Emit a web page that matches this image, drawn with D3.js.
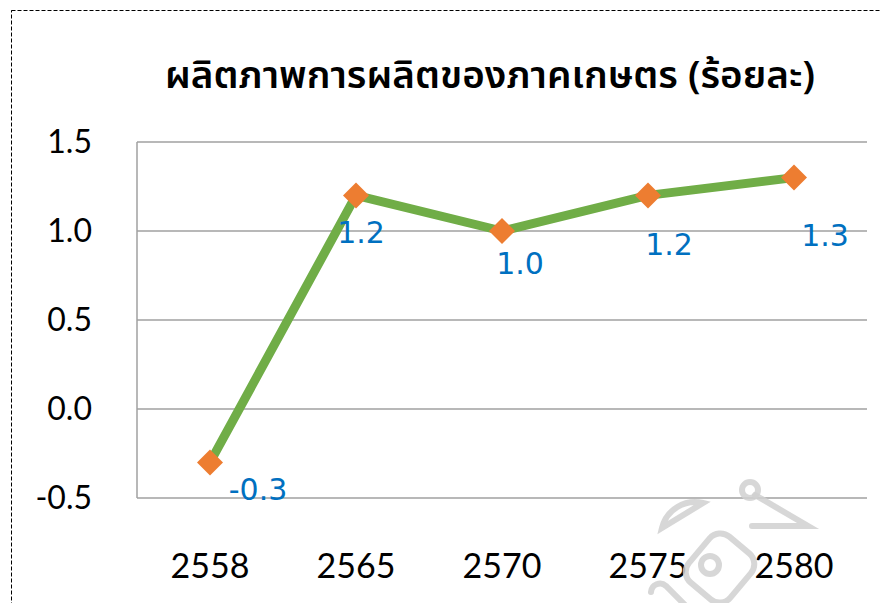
<!DOCTYPE html>
<html>
<head>
<meta charset="utf-8">
<script src="https://cdn.jsdelivr.net/npm/d3@7"></script>
<style>
  html, body { margin: 0; padding: 0; background: #fff; }
  svg { display: block; }
</style>
</head>
<body>
<div id="chart"></div>
<script>
// data
const years = ["2558", "2565", "2570", "2575", "2580"];
const values = [-0.3, 1.2, 1.0, 1.2, 1.3];
const yTicks = [-0.5, 0.0, 0.5, 1.0, 1.5];
const title = "ผลิตภาพการผลิตของภาคเกษตร (ร้อยละ)";

// label nudges (px from the marker), Excel places them by hand
const labelNudge = [[48, 38], [5, 48], [18, 43], [21, 60], [31, 68]];

const width = 880, height = 603;
const plot = { left: 137, right: 867, top: 142, bottom: 498 };
const fmt = d => d.toFixed(1); // plain hyphen for negatives, like the original

const svg = d3.select("#chart").append("svg")
  .attr("width", width)
  .attr("height", height);

// dashed frame, runs off the right and bottom edges
svg.append("rect")
  .attr("x", 11.5).attr("y", 10.5)
  .attr("width", 900).attr("height", 700)
  .attr("fill", "none")
  .attr("stroke", "#000")
  .attr("stroke-width", 1)
  .attr("stroke-dasharray", "4,2");

const x = d3.scalePoint()
  .domain(years)
  .range([plot.left, plot.right])
  .padding(0.5);

const y = d3.scaleLinear()
  .domain([-0.5, 1.5])
  .range([plot.bottom, plot.top]);

// gridlines
svg.append("g")
  .selectAll("line")
  .data(yTicks)
  .join("line")
    .attr("x1", plot.left).attr("x2", plot.right)
    .attr("y1", d => y(d)).attr("y2", d => y(d))
    .attr("stroke", "#a0a0a0")
    .attr("stroke-width", 1.5);

svg.append("line")
  .attr("x1", plot.left).attr("x2", plot.left)
  .attr("y1", plot.top).attr("y2", plot.bottom)
  .attr("stroke", "#a0a0a0")
  .attr("stroke-width", 1.5);

// y tick labels
svg.append("g")
  .selectAll("text")
  .data(yTicks)
  .join("text")
    .attr("x", 92)
    .attr("y", d => y(d) + 11)
    .attr("text-anchor", "end")
    .attr("font-family", "Lato, sans-serif")
    .attr("font-size", 32)
    .attr("fill", "#000")
    .text(fmt);

// x tick labels
svg.append("g")
  .selectAll("text")
  .data(years)
  .join("text")
    .attr("x", d => x(d))
    .attr("y", 578)
    .attr("text-anchor", "middle")
    .attr("font-family", "Lato, sans-serif")
    .attr("font-size", 34)
    .attr("fill", "#000")
    .text(d => d);

// title
svg.append("text")
  .attr("x", 490)
  .attr("y", 88)
  .attr("text-anchor", "middle")
  .attr("font-family", "'Noto Sans Thai', Tahoma, sans-serif")
  .attr("font-weight", 600)
  .attr("font-size", 38)
  .attr("textLength", 650)
  .attr("lengthAdjust", "spacingAndGlyphs")
  .attr("fill", "#000")
  .text(title);

// the series
const line = d3.line()
  .x((d, i) => x(years[i]))
  .y(d => y(d));

svg.append("path")
  .datum(values)
  .attr("d", line)
  .attr("fill", "none")
  .attr("stroke", "#70ad47")
  .attr("stroke-width", 9)
  .attr("stroke-linejoin", "round");

svg.append("g")
  .selectAll("path")
  .data(values)
  .join("path")
    .attr("d", d3.symbol(d3.symbolSquare, 26 * 26 / 2))
    .attr("transform", (d, i) => `translate(${x(years[i])},${y(d)}) rotate(45)`)
    .attr("fill", "#ed7d31");

// data labels
svg.append("g")
  .selectAll("text")
  .data(values)
  .join("text")
    .attr("x", (d, i) => x(years[i]) + labelNudge[i][0])
    .attr("y", (d, i) => y(d) + labelNudge[i][1])
    .attr("text-anchor", "middle")
    .attr("font-family", "'DejaVu Sans', sans-serif")
    .attr("font-size", 30)
    .attr("fill", "#0070c0")
    .text(fmt);

// watermark, faint logo in the lower right, sits over the labels
const wm = svg.append("g")
  .attr("fill", "none")
  .attr("stroke", "#d0d0d0")
  .attr("stroke-opacity", 0.85)
  .attr("stroke-width", 6)
  .attr("stroke-linecap", "round");
wm.append("path").attr("d", "M662,528 A34,34 0 0 1 703,503 Z");
wm.append("rect")
  .attr("x", -27).attr("y", -30).attr("width", 54).attr("height", 60)
  .attr("rx", 14)
  .attr("transform", "translate(720,568) rotate(40)");
wm.append("circle").attr("cx", 710).attr("cy", 565).attr("r", 9);
wm.append("path").attr("d", "M651,592 A9,9 0 0 1 666,586 L692,612");
wm.append("circle").attr("cx", 750).attr("cy", 490).attr("r", 8);
wm.append("path").attr("d", "M755,495 L808,526 L752,526");
</script>
</body>
</html>
